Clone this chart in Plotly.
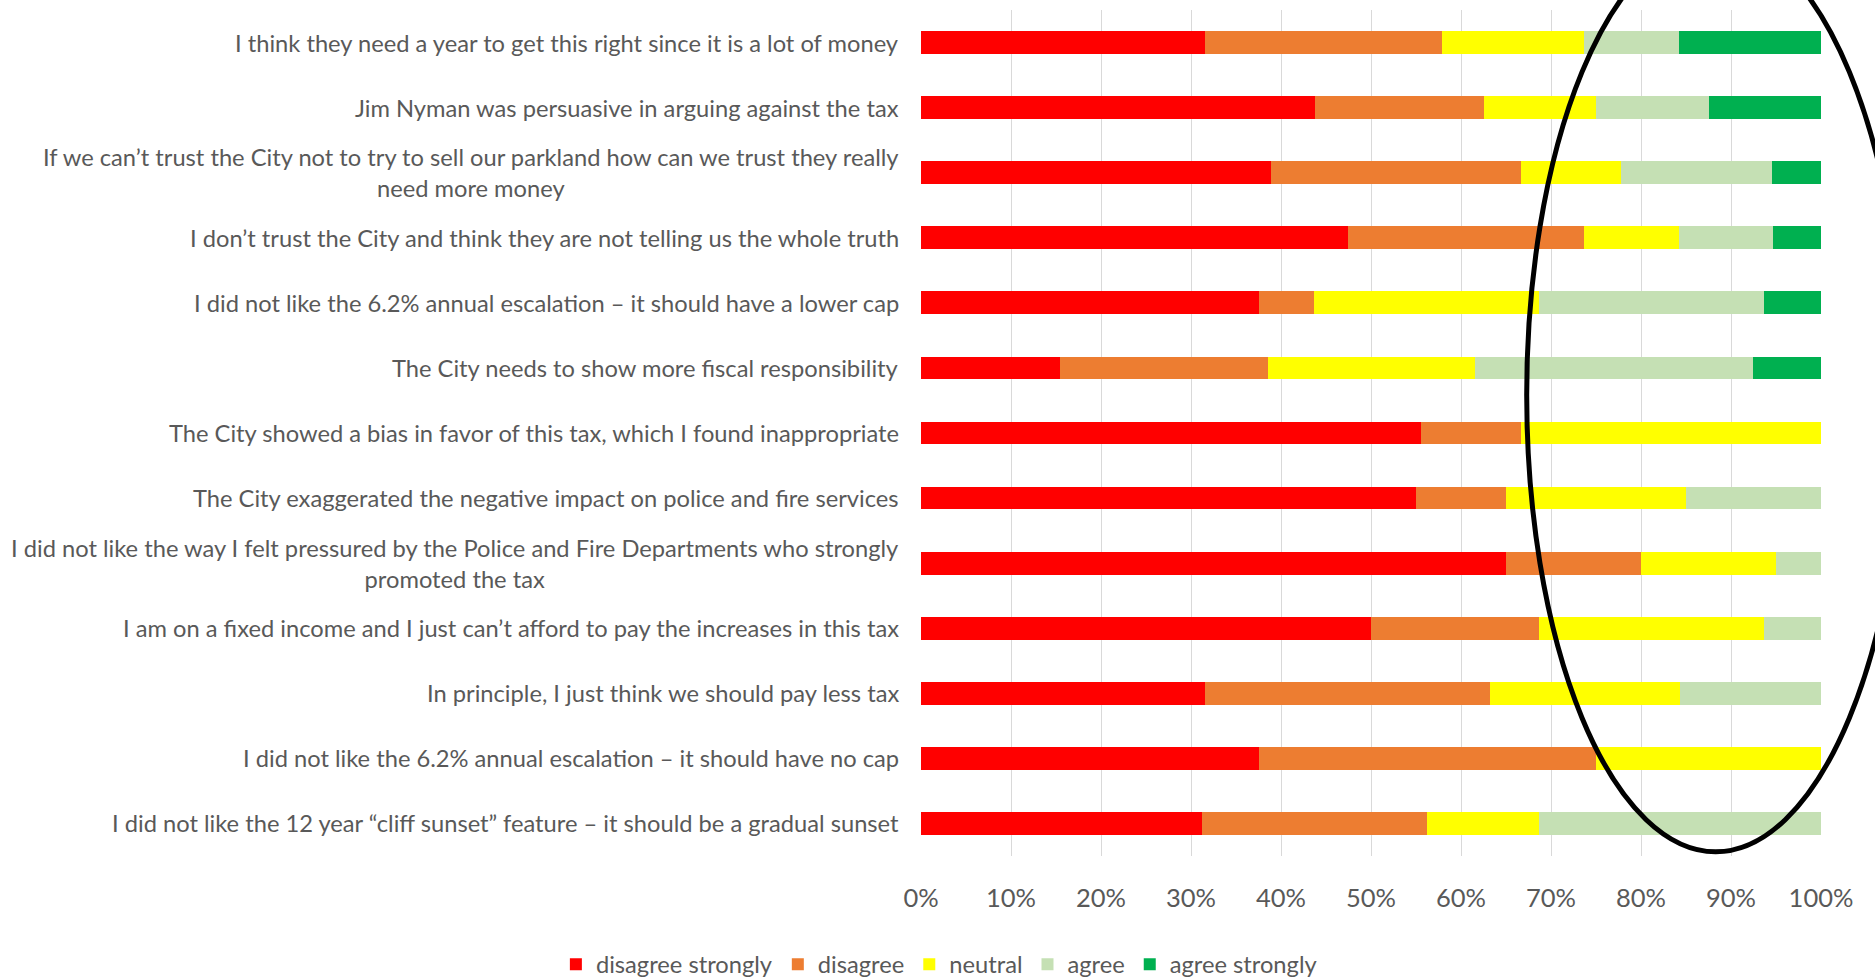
import plotly.graph_objects as go

categories = [
    "I think they need a year to get this right since it is a lot of money",
    "Jim Nyman was persuasive in arguing against the tax",
    "If we can’t trust the City not to try to sell our parkland how can we trust they really<br>need more money",
    "I don’t trust the City and think they are not telling us the whole truth",
    "I did not like the 6.2% annual escalation – it should have a lower cap",
    "The City needs to show more fiscal responsibility",
    "The City showed a bias in favor of this tax, which I found inappropriate",
    "The City exaggerated the negative impact on police and fire services",
    "I did not like the way I felt pressured by the Police and Fire Departments who strongly<br>promoted the tax",
    "I am on a fixed income and I just can’t afford to pay the increases in this tax",
    "In principle, I just think we should pay less tax",
    "I did not like the 6.2% annual escalation – it should have no cap",
    "I did not like the 12 year “cliff sunset” feature – it should be a gradual sunset",
]

disagree_strongly = [31.6, 43.8, 38.9, 47.4, 37.5, 15.4, 55.6, 55.0, 65.0, 50.0, 31.6, 37.5, 31.2]
disagree = [26.3, 18.7, 27.8, 26.3, 6.2, 23.1, 11.1, 10.0, 15.0, 18.7, 31.6, 37.5, 25.0]
neutral = [15.8, 12.5, 11.1, 10.5, 25.0, 23.1, 33.3, 20.0, 15.0, 25.0, 21.1, 25.0, 12.5]
agree = [10.5, 12.5, 16.7, 10.5, 25.0, 30.8, 0, 15.0, 5.0, 6.3, 15.7, 0, 31.3]
agree_strongly = [15.8, 12.5, 5.5, 5.3, 6.3, 7.6, 0, 0, 0, 0, 0, 0, 0]

series = [
    ("disagree strongly", disagree_strongly, "#FF0000"),
    ("disagree", disagree, "#ED7D31"),
    ("neutral", neutral, "#FFFF00"),
    ("agree", agree, "#C5E0B4"),
    ("agree strongly", agree_strongly, "#00B050"),
]

FONT = "Lato"
GREY = "#595959"

fig = go.Figure()
for name, vals, color in series:
    fig.add_trace(go.Bar(
        y=categories, x=vals, name=name, orientation="h",
        marker=dict(color=color, line=dict(width=0)),
        hoverinfo="x+name",
    ))

annotations = []
for c in categories:
    annotations.append(dict(
        x=0, xref="paper", y=c, yref="y", text=c, showarrow=False,
        xanchor="right", yanchor="middle", align="center", xshift=-20,
        font=dict(family=FONT, size=23.7, color=GREY),
    ))

fig.update_layout(
    width=1875, height=977,
    margin=dict(l=921, r=54, t=10, b=121),
    paper_bgcolor="white", plot_bgcolor="white",
    barmode="stack", bargap=0.65,
    font=dict(family=FONT, color=GREY),
    xaxis=dict(
        range=[0, 100], dtick=10, ticksuffix="%", showgrid=True,
        gridcolor="#D9D9D9", gridwidth=1.3, zeroline=False, showline=False,
        tickfont=dict(family=FONT, size=25.5, color=GREY),
        ticks="", ticklabelstandoff=24,
    ),
    yaxis=dict(
        type="category", categoryorder="array", categoryarray=categories,
        autorange="reversed", showticklabels=False, showgrid=False,
        zeroline=False, showline=False,
    ),
    legend=dict(
        orientation="h", xref="container", yref="container",
        x=0.501, xanchor="center", y=0.013, yanchor="middle",
        font=dict(family=FONT, size=23.7, color=GREY),
        traceorder="normal", itemwidth=30,
    ),
    annotations=annotations,
    shapes=[dict(
        type="circle", xref="paper", yref="paper",
        x0=0.673, x1=1.093, y0=0.005, y1=1.085,
        line=dict(color="black", width=5), fillcolor="rgba(0,0,0,0)",
        layer="above",
    )],
)

fig.write_html(
    "out.html",
    config={"displayModeBar": False},
    post_script="document.body.style.margin='0';document.body.style.overflow='hidden';",
)
